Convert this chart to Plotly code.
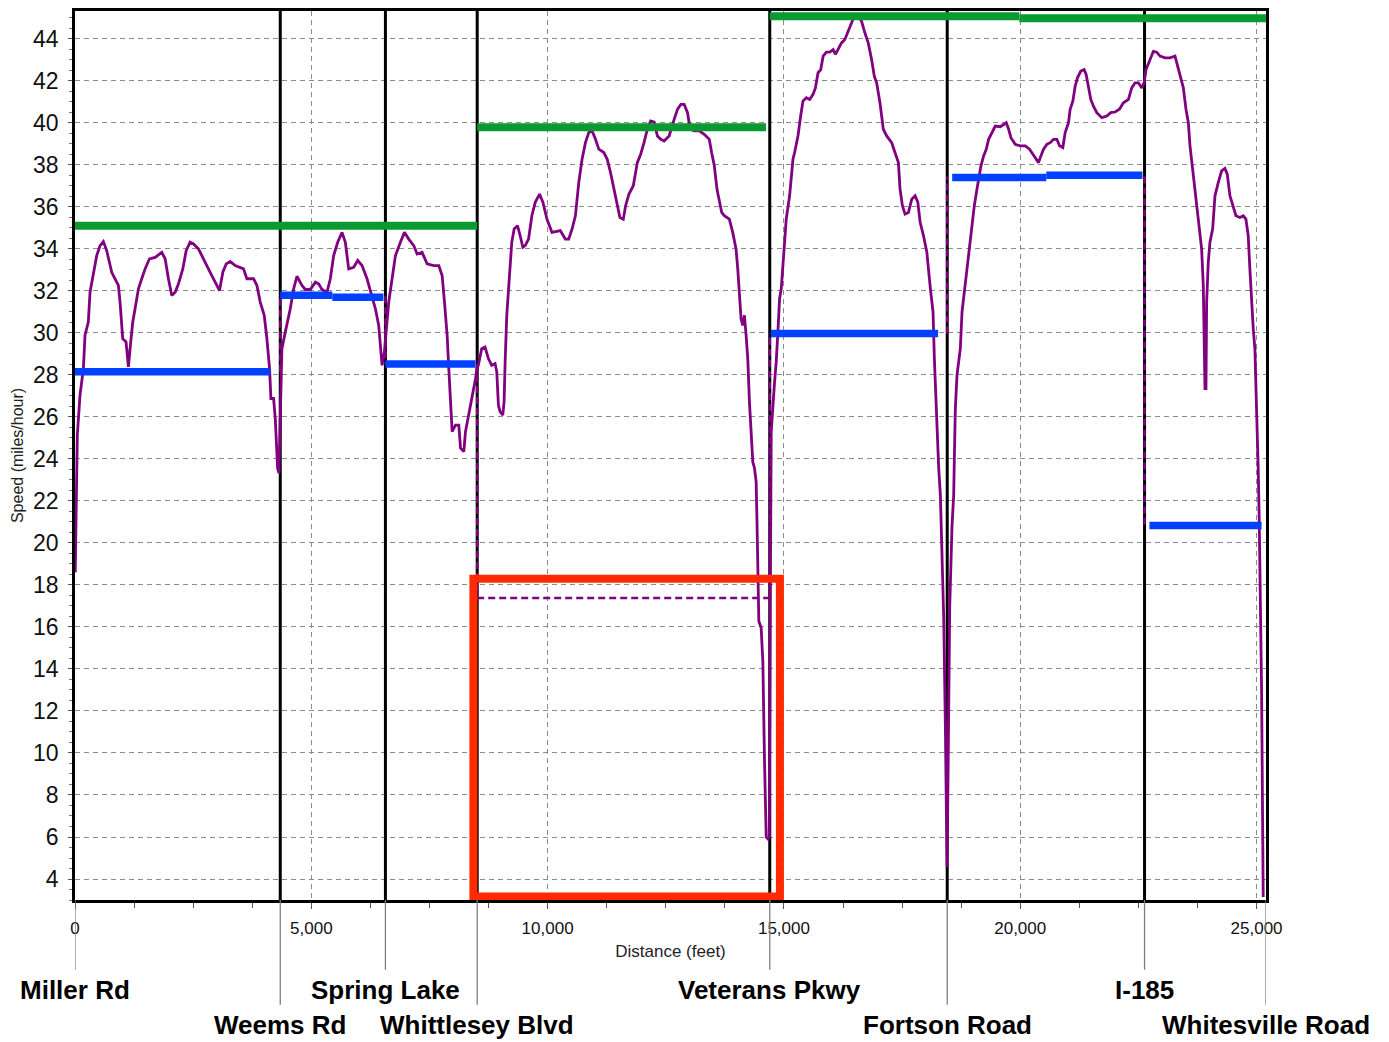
import plotly.graph_objects as go

# ---- Corridor sections (distance in feet at each intersection) ----
intersections = ["Miller Rd", "Weems Rd", "Spring Lake", "Whittlesey Blvd",
                 "Veterans Pkwy", "Fortson Road", "I-185", "Whitesville Road"]
intersection_ft = [0, 4343, 6568, 8510, 14700, 18455, 22630, 25200]
label_row = [0, 1, 0, 1, 0, 1, 0, 1]

# ---- Posted speed limit segments (green) ----
limit_start_ft = [0, 8510, 14700, 19980]
limit_end_ft = [8510, 14620, 19980, 25200]
limit_mph = [35.1, 39.8, 45.08, 44.98]

# ---- Average travel speed segments (blue) ----
avg_start_ft = [0, 4343, 5445, 6568, 14725, 18560, 20551, 22733]
avg_end_ft = [4131, 5445, 6525, 8475, 18263, 20551, 22585, 25106]
avg_mph = [28.15, 31.79, 31.70, 28.52, 29.97, 37.40, 37.51, 20.83]

# ---- Section average speeds (dashed connectors) ----
section_avg_mph = [28.15, 31.75, 28.52, 17.38, 29.97, 37.45, 20.83]

# ---- Highlighted section (red box) ----
highlight_ft = [8430, 14915]
highlight_mph = [3.17, 18.3]

# ---- Speed profile along the corridor ----
profile_ft = [
    5, 49, 106, 177, 212, 282, 318, 388, 459, 530, 600, 671, 777, 847, 918, 953,
    1010, 1080, 1130, 1179, 1222, 1271, 1342, 1412, 1483, 1575, 1695, 1836, 1907,
    1977, 2048, 2119, 2189, 2281, 2352, 2436, 2507, 2613, 2684, 2754, 2860, 2966,
    3058, 3128, 3199, 3284, 3390, 3566, 3637, 3778, 3849, 3919, 4004, 4060, 4117,
    4145, 4202, 4237, 4287, 4315,
    4357, 4378, 4449, 4555, 4626, 4696, 4802, 4873, 4979, 5085, 5155, 5226, 5332,
    5402, 5473, 5558, 5650, 5720, 5791, 5897, 5982, 6073, 6179, 6264, 6356, 6426,
    6462, 6497, 6547,
    6603, 6638, 6709, 6780, 6885, 6970, 7062, 7168, 7239, 7344, 7450, 7592, 7698,
    7768, 7818, 7874, 7909, 7945, 7980, 8051, 8121, 8157, 8227, 8262, 8333, 8404,
    8475, 8510,
    8534, 8605, 8676, 8747, 8817, 8888, 8924, 8959, 8994, 9051, 9079, 9101, 9136,
    9193, 9242, 9292, 9363, 9419, 9476, 9526, 9596, 9667, 9738, 9830, 9901, 9986,
    10092, 10269, 10375, 10446, 10517, 10588, 10659, 10729, 10800, 10871, 10942,
    11013, 11083, 11190, 11261, 11331, 11402, 11473, 11530, 11601, 11650, 11721,
    11813, 11898, 11969, 12040, 12110, 12181, 12252, 12323, 12394, 12464, 12571,
    12677, 12748, 12819, 12889, 12960, 13017, 13102, 13208, 13314, 13421, 13470,
    13527, 13583, 13633, 13683, 13739, 13845, 13916, 13987, 14023, 14058, 14093,
    14129, 14164, 14200, 14235, 14270, 14306, 14341, 14377, 14412, 14430, 14447,
    14469, 14518, 14554, 14589, 14625, 14660, 14690, 14712,
    14718, 14731, 14802, 14837, 14872, 14908, 14943, 14979, 15014, 15049, 15120,
    15156, 15191, 15226, 15297, 15354, 15403, 15474, 15545, 15616, 15666, 15722,
    15779, 15829, 15899, 15970, 16041, 16091, 16147, 16218, 16289, 16360, 16416,
    16487, 16572, 16643, 16714, 16784, 16855, 16912, 16962, 17032, 17103, 17174,
    17280, 17351, 17422, 17457, 17507, 17563, 17634, 17705, 17776, 17833, 17882,
    17953, 18024, 18099, 18155, 18183, 18218, 18254, 18275, 18310, 18345, 18381,
    18416, 18437, 18451,
    18479, 18507, 18556, 18592, 18610, 18627, 18662, 18732, 18768, 18817, 18873,
    18930, 18979, 19028, 19085, 19120, 19169, 19225, 19282, 19331, 19401, 19472,
    19578, 19704, 19754, 19803, 19894, 20000, 20106, 20197, 20268, 20338, 20387,
    20437, 20493, 20563, 20634, 20704, 20775, 20831, 20901, 20951, 21021, 21056,
    21113, 21162, 21211, 21282, 21352, 21394, 21444, 21493, 21549, 21620, 21725,
    21831, 21915, 22007, 22099, 22183, 22289, 22359, 22429, 22500, 22570, 22620,
    22662, 22732, 22817, 22887, 22958, 23063, 23169, 23275, 23324, 23380, 23451,
    23507, 23557, 23592, 23648, 23698, 23746, 23803, 23838, 23873, 23887, 23909,
    23930, 23944, 23979, 24014, 24071, 24120, 24190, 24261, 24331, 24380, 24437,
    24507, 24564, 24648, 24718, 24775, 24824, 24859, 24895, 24930, 24965, 25000,
    25035, 25056, 25085, 25106, 25141,
]
profile_mph = [
    18.6, 25.14, 27.04, 28.30, 29.89, 30.52, 31.94, 32.73, 33.68, 34.16, 34.35,
    33.92, 32.89, 32.58, 32.26, 31.47, 29.73, 29.57, 28.38, 29.57, 30.52, 31.15,
    32.10, 32.58, 33.05, 33.53, 33.60, 33.84, 33.53, 32.58, 31.78, 31.94, 32.34,
    33.05, 33.92, 34.32, 34.24, 34.00, 33.68, 33.29, 32.89, 32.42, 32.02, 32.89,
    33.29, 33.40, 33.21, 33.05, 32.58, 32.58, 32.26, 31.47, 30.84, 29.73, 28.30,
    26.88, 26.88, 25.93, 23.56, 23.32,
    27.35, 29.25, 30.04, 31.15, 32.10, 32.70, 32.26, 32.07, 32.07, 32.42, 32.34,
    32.07, 31.94, 32.58, 33.68, 34.32, 34.79, 34.32, 33.05, 33.13, 33.45, 33.21,
    32.58, 31.94, 31.15, 30.36, 29.57, 28.46, 29.09,
    30.52, 31.47, 32.58, 33.68, 34.32, 34.79, 34.47, 34.16, 33.76, 33.84, 33.29,
    33.21, 33.21, 32.73, 31.47, 29.89, 28.30, 26.56, 25.30, 25.61, 25.61, 24.51,
    24.35, 25.30, 26.09, 27.04, 27.83, 28.40,
    28.46, 29.25, 29.33, 28.78, 28.46, 28.54, 28.15, 26.56, 26.25, 26.09, 26.72,
    28.62, 30.84, 32.73, 34.32, 34.95, 35.11, 34.63, 34.08, 34.16, 34.47, 35.58,
    36.22, 36.61, 36.22, 35.42, 34.79, 34.87, 34.47, 34.47, 34.95, 35.58, 37.16,
    38.27, 39.06, 39.54, 39.62, 39.22, 38.75, 38.59, 38.27, 37.64, 36.85, 36.06,
    35.50, 35.42, 36.06, 36.61, 37.01, 38.11, 38.51, 39.06, 39.70, 40.09, 40.04,
    39.38, 39.22, 39.14, 39.38, 40.17, 40.65, 40.88, 40.88, 40.49, 39.70, 39.62,
    39.62, 39.46, 39.22, 38.59, 37.96, 36.85, 36.22, 35.74, 35.58, 35.42, 34.79,
    34.00, 33.05, 31.94, 30.68, 30.36, 30.84, 29.89, 28.78, 26.72, 25.14, 23.87,
    23.56, 22.92, 21.02, 18.49, 16.27, 15.96, 14.37, 9.63, 5.99, 5.91, 6.0, 17.5,
    23.5, 25.30, 27.67, 28.62, 30.04, 31.63, 32.10, 33.21, 34.32, 35.42, 36.53,
    37.48, 38.27, 38.59, 39.38, 40.33, 41.04, 41.20, 41.12, 41.36, 41.67, 42.39,
    42.54, 43.18, 43.37, 43.37, 43.49, 43.26, 43.49, 43.81, 43.97, 44.36, 44.76,
    45.08, 45.16, 44.84, 44.28, 43.81, 43.02, 42.23, 41.91, 40.96, 39.70, 39.38,
    39.06, 38.59, 38.11, 36.85, 36.06, 35.66, 35.74, 36.37, 36.53, 36.22, 35.27,
    34.63, 33.84, 32.10, 31.00, 28.78, 26.72, 23.87, 23.55, 22.28, 19.91, 16.43,
    11.21, 7.41, 4.56,
    10.26, 16.91, 20.78, 22.28, 24.51, 26.41, 27.99, 29.25, 30.99, 31.94, 33.05,
    34.00, 34.95, 36.06, 36.85, 37.32, 37.96, 38.43, 38.75, 39.22, 39.54, 39.85,
    39.82, 40.01, 39.70, 39.30, 38.98, 38.91, 38.91, 38.75, 38.51, 38.27, 38.11,
    38.43, 38.75, 38.98, 39.06, 39.22, 39.22, 38.91, 38.83, 39.54, 40.01, 40.65,
    41.04, 41.75, 42.15, 42.47, 42.54, 42.31, 41.75, 41.12, 40.80, 40.49, 40.25,
    40.33, 40.49, 40.52, 40.65, 40.96, 41.12, 41.67, 41.91, 41.91, 41.67, 41.91,
    42.54, 42.94, 43.41, 43.37, 43.18, 43.10, 43.10, 43.18, 42.78, 42.31, 41.67,
    40.65, 40.01, 38.91, 37.80, 36.85, 36.06, 34.63, 34.00, 32.26, 29.89, 27.35,
    27.35, 31.47, 33.37, 34.32, 34.95, 36.53, 37.16, 37.72, 37.83, 37.56, 36.53,
    36.06, 35.58, 35.50, 35.58, 35.42, 34.63, 33.05, 31.47, 30.20, 29.25, 26.72,
    23.56, 21.18, 15.64, 13.11, 3.14,
]

X_RANGE = [0, 25200]
Y_RANGE = [3, 45.33]

FONT = "Liberation Sans, Arial, sans-serif"
PURPLE = "#800080"
GREEN = "#0a9a32"
BLUE = "#0041ff"
RED = "#ff2a00"
GRID = "#8c8c8c"

fig = go.Figure()

# Intersection boundaries inside the plot
bx, by = [], []
for ft in intersection_ft[1:-1]:
    bx += [ft, ft, None]
    by += [Y_RANGE[0], Y_RANGE[1], None]
fig.add_trace(go.Scatter(x=bx, y=by, mode="lines",
                         line=dict(color="black", width=3),
                         hoverinfo="skip", showlegend=False))

# Speed profile
fig.add_trace(go.Scatter(x=profile_ft, y=profile_mph, mode="lines",
                         line=dict(color=PURPLE, width=2.8),
                         name="Speed", showlegend=False))

# Dashed connectors between section averages; a section with no
# average-speed bar gets its average drawn as a dashed level
dx, dy = [], []
for i in range(1, len(section_avg_mph)):
    ft = intersection_ft[i]
    dx += [ft, ft, None]
    dy += [section_avg_mph[i - 1], section_avg_mph[i], None]
for i, level in enumerate(section_avg_mph):
    s, e = intersection_ft[i], intersection_ft[i + 1]
    if not any(s <= a < e for a in avg_start_ft):
        dx += [s, e, None]
        dy += [level, level, None]
fig.add_trace(go.Scatter(x=dx, y=dy, mode="lines",
                         line=dict(color=PURPLE, width=2.5, dash="7px,4px"),
                         hoverinfo="skip", showlegend=False))

# Speed limits
gx, gy = [], []
for s, e, v in zip(limit_start_ft, limit_end_ft, limit_mph):
    gx += [s, e, None]
    gy += [v, v, None]
fig.add_trace(go.Scatter(x=gx, y=gy, mode="lines",
                         line=dict(color=GREEN, width=8),
                         name="Speed limit", showlegend=False))

# Average speeds
ax_, ay_ = [], []
for s, e, v in zip(avg_start_ft, avg_end_ft, avg_mph):
    ax_ += [s, e, None]
    ay_ += [v, v, None]
fig.add_trace(go.Scatter(x=ax_, y=ay_, mode="lines",
                         line=dict(color=BLUE, width=7.5),
                         name="Average speed", showlegend=False))

shapes = []
# Highlight box
shapes.append(dict(type="rect", xref="x", yref="y",
                   x0=highlight_ft[0], x1=highlight_ft[1],
                   y0=highlight_mph[0], y1=highlight_mph[1],
                   line=dict(color=RED, width=8), fillcolor="rgba(0,0,0,0)",
                   layer="above"))

plot_h = 1042 - 8 - 142
annotations = []
for name, ft, row in zip(intersections, intersection_ft, label_row):
    drop = 70 if row == 0 else 105
    shapes.append(dict(type="line", xref="x", yref="paper",
                       x0=ft, x1=ft, y0=0, y1=-drop / plot_h,
                       line=dict(color="#7f7f7f", width=1.3)))
    center = 90 if row == 0 else 125
    annotations.append(dict(x=ft, xref="x", y=-center / plot_h, yref="paper",
                            text=name, showarrow=False, xanchor="center",
                            yanchor="middle",
                            font=dict(family=FONT, size=26, color="black",
                                      weight="bold")))

fig.update_layout(
    width=1389, height=1042, autosize=False,
    margin=dict(l=75, r=123, t=8, b=142, pad=0),
    paper_bgcolor="white", plot_bgcolor="white",
    font=dict(family=FONT, color="#111111"),
    shapes=shapes, annotations=annotations,
    showlegend=False,
)

fig.update_xaxes(
    range=X_RANGE, tick0=0, dtick=5000, tickformat=",",
    showgrid=True, gridcolor=GRID, gridwidth=1, griddash="5px,4px",
    zeroline=False, showline=True, linecolor="black", linewidth=2.5,
    mirror=True, ticks="outside", ticklen=6, tickcolor="#555555",
    tickfont=dict(family=FONT, size=17, color="#111111"),
    ticklabelstandoff=5,
    minor=dict(dtick=1250, tick0=0, ticks="outside", ticklen=5,
               tickcolor="#555555", showgrid=False),
    title=dict(text="Distance (feet)", standoff=8,
               font=dict(family=FONT, size=17, color="#222222")),
)
fig.update_yaxes(
    range=Y_RANGE, tick0=0, dtick=2,
    showgrid=True, gridcolor=GRID, gridwidth=1, griddash="5px,4px",
    zeroline=False, showline=True, linecolor="black", linewidth=2.5,
    mirror=True, ticks="outside", ticklen=4, tickcolor="#555555",
    tickfont=dict(family=FONT, size=23, color="#111111"),
    ticklabelstandoff=5,
    minor=dict(dtick=0.5, tick0=0, ticks="outside", ticklen=3,
               tickcolor="#777777", showgrid=False),
    title=dict(text="Speed (miles/hour)", standoff=6,
               font=dict(family=FONT, size=16, color="#222222")),
)

fig.write_html("out.html")
